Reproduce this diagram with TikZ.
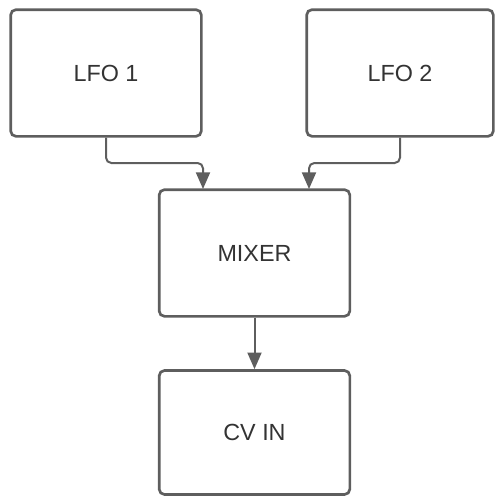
\documentclass[tikz,border=0pt]{standalone}
\usepackage{fontspec}
\setmainfont{Liberation Sans}
\usetikzlibrary{arrows.meta}

\definecolor{linegray}{HTML}{5E5E5E}
\definecolor{textgray}{HTML}{333333}

\tikzset{
  block/.style={rectangle, draw=linegray, line width=2pt, rounded corners=4pt,
    text=textgray, font=\fontsize{17.5}{20}\selectfont},
  conn/.style={draw=linegray, line width=1.5pt, rounded corners=4pt,
    -{Triangle[length=12.5pt, width=10.5pt]}}
}

\begin{document}
\begin{tikzpicture}[x=0.75pt, y=-0.75pt]
    \useasboundingbox (0,0) rectangle (494,496);
    % ノード
    \node[block, minimum width=143pt, minimum height=95pt] (lfo1) at (106, 73) {LFO 1};
    \node[block, minimum width=140pt, minimum height=95pt] (lfo2) at (400, 73) {LFO 2};
    \node[block, minimum width=143pt, minimum height=95pt] (mixer) at (254.5, 253) {MIXER};
    \node[block, minimum width=143pt, minimum height=93pt] (cvin) at (254.5, 432.5) {CV IN};

    % 折れ点と入口
    \coordinate (k1) at (106, 163);
    \coordinate (k2) at (400, 163);
    \coordinate (in1) at (203, 189);
    \coordinate (in2) at (309, 189);

    % エッジ
    \draw[conn] (lfo1.south) -- (k1) -| (in1);
    \draw[conn] (lfo2.south) -- (k2) -| (in2);
    \draw[conn] (mixer.south) -- (cvin.north);
\end{tikzpicture}
\end{document}
